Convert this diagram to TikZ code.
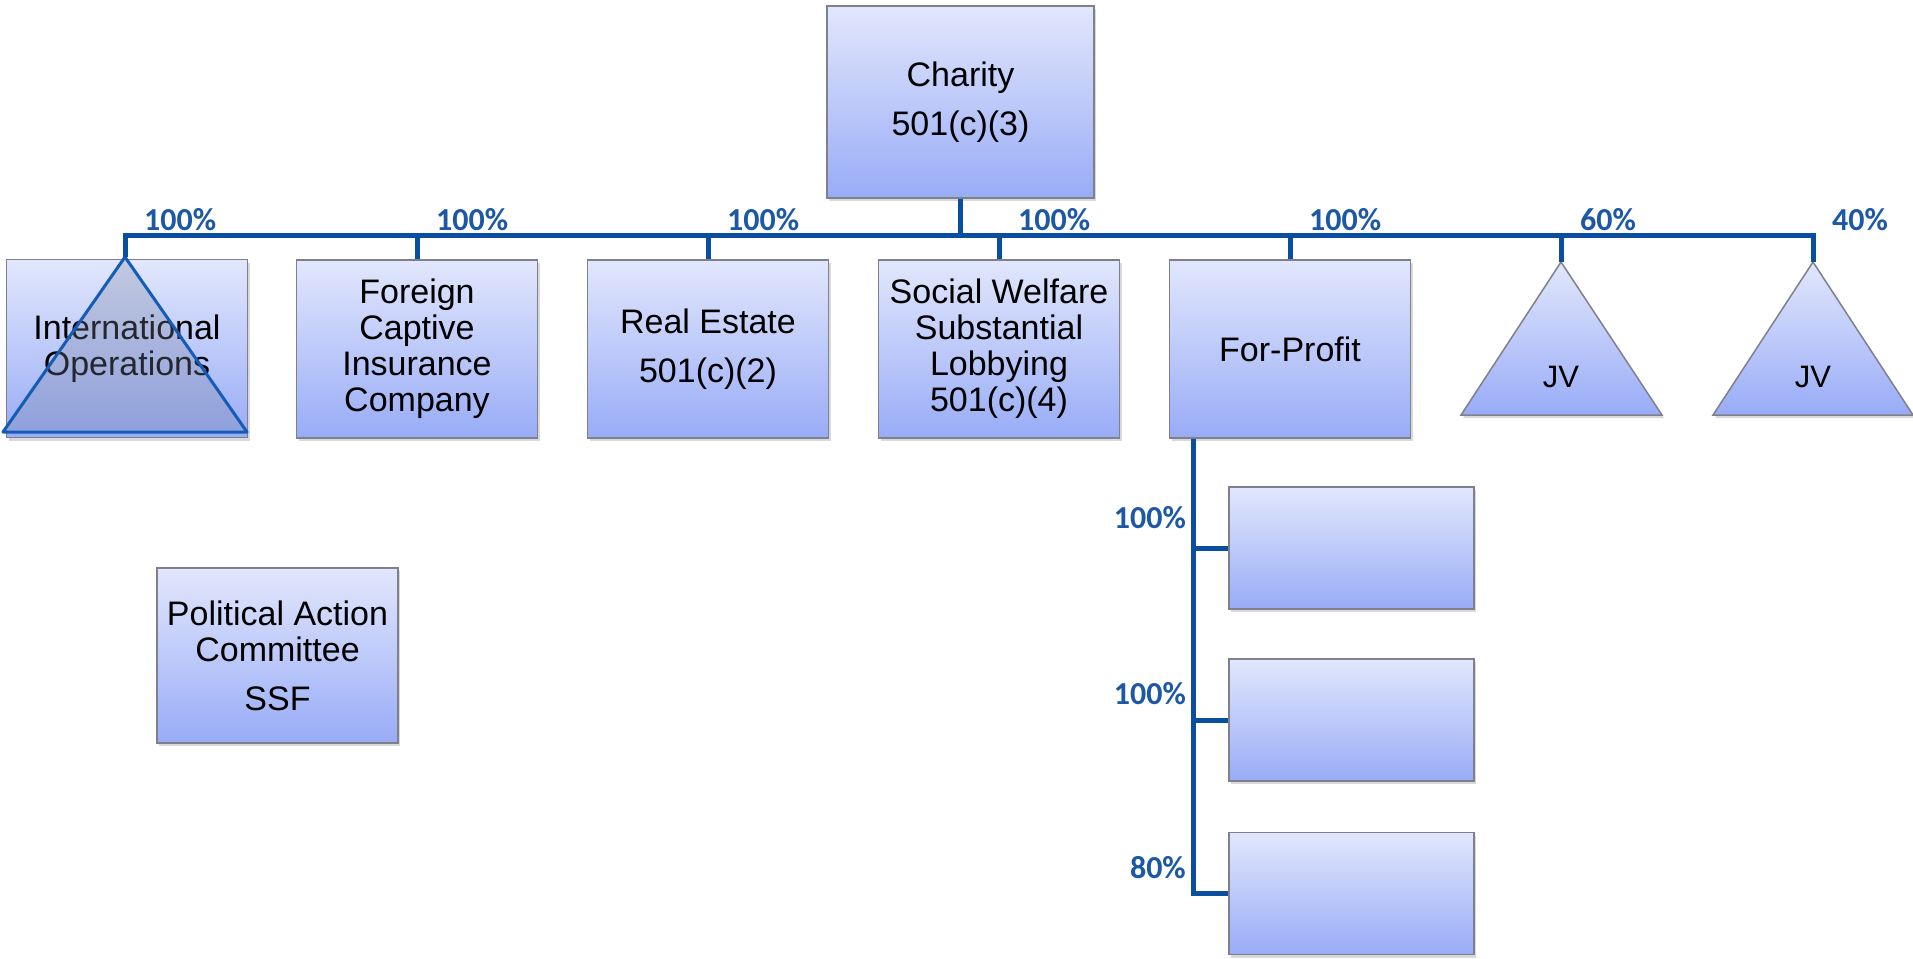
\documentclass[tikz,border=0pt]{standalone}
\usepackage{fontspec}
\setmainfont{Liberation Sans}
\newfontfamily\pctfont{Carlito}
\usetikzlibrary{calc,shadows,positioning}
\definecolor{busblue}{RGB}{10,78,160}
\definecolor{pctblue}{RGB}{28,88,166}
\definecolor{triblue}{RGB}{20,92,182}
\definecolor{boxtop}{RGB}{226,231,252}
\definecolor{boxbot}{RGB}{152,172,247}
\definecolor{boxedge}{RGB}{128,128,140}
\definecolor{overlay}{RGB}{120,130,158}

\begin{document}
\begin{tikzpicture}[x=1pt,y=-1pt,
  entity/.style={draw=boxedge,line width=1.5pt,top color=boxtop,bottom color=boxbot,
    minimum width=241pt,minimum height=178pt,inner sep=0pt,align=center,
    font=\fontsize{34}{36}\selectfont,
    drop shadow={shadow xshift=2pt,shadow yshift=-3pt,opacity=0.3}},
  jvtri/.style={draw=boxedge,line width=1.5pt,top color=boxtop,bottom color=boxbot,
    drop shadow={shadow xshift=2pt,shadow yshift=-3pt,opacity=0.3}},
  own/.style={draw=busblue,line width=5pt},
  pct/.style={text=pctblue,inner sep=0pt,font=\pctfont\bfseries\fontsize{32}{32}\selectfont}]
  \useasboundingbox (0,0) rectangle (1913,958);
  % parent
  \node[entity,minimum width=267pt,minimum height=192pt]
    (charity) at (960.5,102) {Charity\\[13pt]501(c)(3)};
  % first tier
  \node[entity] (intl) at (127,348.5) {International\\Operations};
  \node[entity] (captive) at (417,349) {Foreign\\Captive\\Insurance\\Company};
  \node[entity] (realestate) at (708,349) {Real Estate\\[13pt]501(c)(2)};
  \node[entity] (socwel) at (999,349) {Social Welfare\\Substantial\\Lobbying\\501(c)(4)};
  \node[entity] (forprofit) at (1290,349) {For-Profit};
  \node[entity,minimum height=175pt]
    (pac) at (277.5,655.5) {Political Action\\Committee\\[13pt]SSF};
  % joint ventures
  \coordinate (jvAtop) at (1561,262);
  \coordinate (jvBtop) at (1813,262);
  \path[jvtri] (jvAtop) -- (1461,415) -- (1662,415) -- cycle;
  \path[jvtri] (jvBtop) -- (1713,415) -- (1913,415) -- cycle;
  \node[font=\fontsize{31}{31}\selectfont] (jvA) at (1561,377) {JV};
  \node[font=\fontsize{31}{31}\selectfont] (jvB) at (1813,377) {JV};
  % overlay on international box
  \coordinate (intlTop) at (125,257);
  \draw[draw=triblue,line width=3pt,fill=overlay,fill opacity=0.3,line join=round]
    (intlTop) -- (3,432) -- (247,432) -- cycle;
  % subsidiaries of the for-profit
  \node[entity,minimum width=245pt,minimum height=122pt] (subA) at (1351.5,548) {};
  \node[entity,minimum width=245pt,minimum height=122pt] (subB) at (1351.5,720) {};
  \node[entity,minimum width=245pt,minimum height=122pt] (subC) at (1351.5,893.5) {};
  % ownership lines
  \coordinate (bus) at (0,235);
  \coordinate (spine) at (1193,0);
  \draw[own] (charity.south) -- (charity.south |- bus);
  \draw[own] (intlTop) -- (intlTop |- bus) -- (jvBtop |- bus) -- (jvBtop);
  \foreach \n in {captive.north,realestate.north,socwel.north,forprofit.north,jvAtop}
    \draw[own] (\n) -- (\n |- bus);
  \foreach \n/\p/\i in {intlTop/100/a,captive.north/100/b,realestate.north/100/c,
      socwel.north/100/d,forprofit.north/100/e,jvAtop/60/f,jvBtop/40/g}
    \node[pct,anchor=base west] (top-\i) at ($(\n |- bus)+(19,-5)$) {\p\%};
  \draw[own] (forprofit.south -| spine) |- (subC.west);
  \draw[own] (subA.west -| spine) -- (subA.west);
  \draw[own] (subB.west -| spine) -- (subB.west);
  \node[pct,anchor=base east] (sub-a) at ($(subA.west -| spine)+(-7,-20)$) {100\%};
  \node[pct,anchor=base east] (sub-b) at ($(subB.west -| spine)+(-7,-16)$) {100\%};
  \node[pct,anchor=base east] (sub-c) at ($(subC.west -| spine)+(-7,-15)$) {80\%};
\end{tikzpicture}
\end{document}
